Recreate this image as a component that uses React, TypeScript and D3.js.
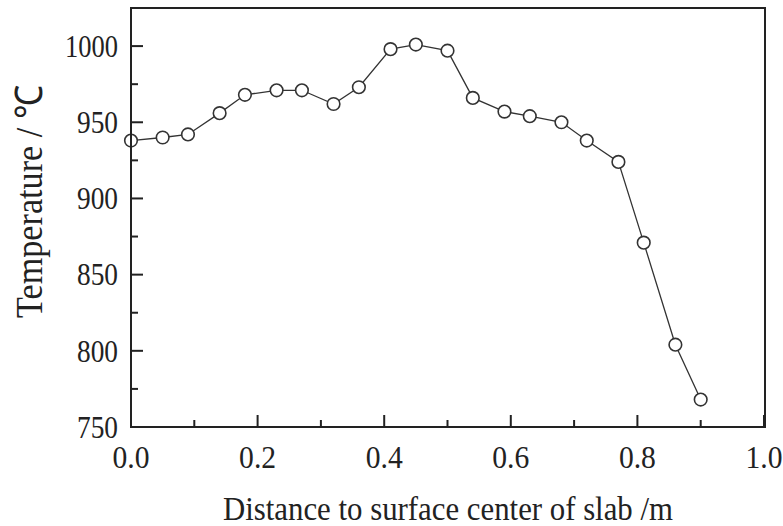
import React from "react";
import * as d3 from "d3";

const distance = [0, 0.05, 0.09, 0.14, 0.18, 0.23, 0.27, 0.32, 0.36, 0.41, 0.45, 0.5, 0.54, 0.59, 0.63, 0.68, 0.72, 0.77, 0.81, 0.86, 0.9];
const temperature = [938, 940, 942, 956, 968, 971, 971, 962, 973, 998, 1001, 997, 966, 957, 954, 950, 938, 924, 871, 804, 768];
const xTicks = [0, 0.2, 0.4, 0.6, 0.8, 1.0];
const xMinor = [0.1, 0.3, 0.5, 0.7, 0.9];
const yTicks = [750, 800, 850, 900, 950, 1000];
const yMinor = [775, 825, 875, 925, 975];
const xTitle = "Distance to surface center of slab /m";
const yTitle = "Temperature / \u2103";

const W = 783;
const H = 526;
const L = 131, R = 765, T = 8, B = 427;

export default function App() {
  const x = d3.scaleLinear().domain([0, 1]).range([L, 764]);
  const y = d3.scaleLinear().domain([750, 1025]).range([B, T]);
  const line = d3.line<number>().x((_, i) => x(distance[i])).y((d) => y(d));
  const font = "'Liberation Serif', 'Times New Roman', serif";
  return (
    <svg width={W} height={H} style={{ position: "absolute", left: 0, top: 0, background: "#fff" }}>
      <rect x={0} y={0} width={W} height={H} fill="#fff" />
      <path d={line(temperature) || ""} fill="none" stroke="#333" strokeWidth={1.3} />
      {temperature.map((v, i) => (
        <circle key={i} cx={x(distance[i])} cy={y(v)} r={6.3} fill="#fff" stroke="#333" strokeWidth={1.6} />
      ))}
      <rect x={L} y={T} width={R - L} height={B - T} fill="none" stroke="#222" strokeWidth={2} />
      {xTicks.map((t) => (
        <g key={"xt" + t}>
          <line x1={x(t)} x2={x(t)} y1={B} y2={B - 12} stroke="#222" strokeWidth={2} />
          <text x={x(t)} y={468} textAnchor="middle" fontFamily={font} fontSize={31} fill="#222" textLength={37} lengthAdjust="spacingAndGlyphs">
            {t.toFixed(1)}
          </text>
        </g>
      ))}
      {xMinor.map((t) => (
        <line key={"xm" + t} x1={x(t)} x2={x(t)} y1={B} y2={B - 7} stroke="#222" strokeWidth={2} />
      ))}
      {yTicks.map((t) => (
        <g key={"yt" + t}>
          <line x1={L} x2={L + 12} y1={y(t)} y2={y(t)} stroke="#222" strokeWidth={2} />
          <text x={118} y={y(t)} dy="0.35em" textAnchor="end" fontFamily={font} fontSize={31} fill="#222" textLength={String(t).length === 4 ? 53 : 41} lengthAdjust="spacingAndGlyphs">
            {t}
          </text>
        </g>
      ))}
      {yMinor.map((t) => (
        <line key={"ym" + t} x1={L} x2={L + 7} y1={y(t)} y2={y(t)} stroke="#222" strokeWidth={2} />
      ))}
      <text x={448} y={520} textAnchor="middle" fontFamily={font} fontSize={34} fill="#222" textLength={450} lengthAdjust="spacingAndGlyphs">
        {xTitle}
      </text>
      <text transform={`translate(42,${201.5}) rotate(-90)`} textAnchor="middle" fontFamily={font} fontSize={38} fill="#222" textLength={233} lengthAdjust="spacingAndGlyphs">
        {yTitle}
      </text>
    </svg>
  );
}
